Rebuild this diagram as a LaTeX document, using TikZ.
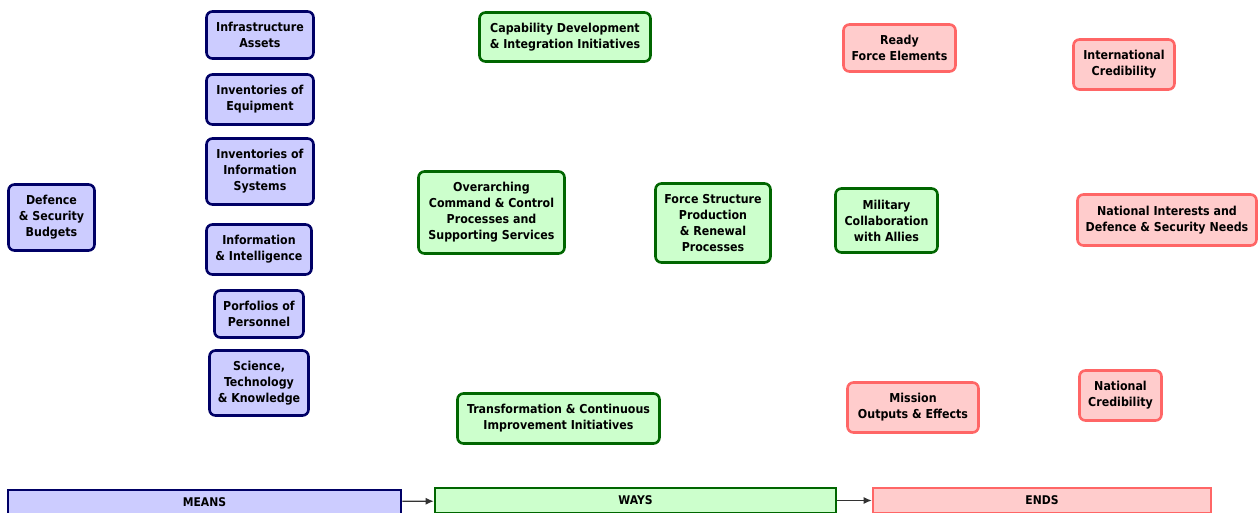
\documentclass[tikz,border=0pt]{standalone}
\usepackage{fontspec}
\setsansfont{DejaVu Sans Condensed}
\usetikzlibrary{arrows.meta}
\definecolor{meansline}{HTML}{000066}
\definecolor{meansfill}{HTML}{CCCCFF}
\definecolor{waysline}{HTML}{006600}
\definecolor{waysfill}{HTML}{CCFFCC}
\definecolor{endsline}{HTML}{FF6666}
\definecolor{endsfill}{HTML}{FFCCCC}
\begin{document}
\begin{tikzpicture}[
  x=1pt, y=-1pt,
  box/.style={line width=2.6pt, rounded corners=6pt, align=center, inner sep=1pt,
    font=\sffamily\bfseries\fontsize{12.3}{16}\selectfont},
  means/.style={box, draw=meansline, fill=meansfill},
  ways/.style={box, draw=waysline, fill=waysfill},
  ends/.style={box, draw=endsline, fill=endsfill},
  bar/.style={line width=2.6pt, inner sep=0pt, font=\sffamily\bfseries\fontsize{12}{14}\selectfont},
  flow/.style={line width=1.2pt, draw=black!80, -{Latex[length=8pt,width=7pt]}}
]
  \useasboundingbox (0,0) rectangle (1258,513);

  % Means: resources held by defence
  \node[means, minimum width=86, minimum height=66] (budgets) at (51.5,217.5) {Defence\\\& Security\\Budgets};
  \node[means, minimum width=107, minimum height=47] (infra) at (260,35) {Infrastructure\\Assets};
  \node[means, minimum width=107, minimum height=50] (equip) at (260,99.5) {Inventories of\\Equipment};
  \node[means, minimum width=107, minimum height=66] (infosys) at (260,171.5) {Inventories of\\Information\\Systems};
  \node[means, minimum width=105, minimum height=50] (intel) at (259,249.5) {Information\\\& Intelligence};
  \node[means, minimum width=89, minimum height=47] (personnel) at (259,314) {Porfolios of\\Personnel};
  \node[means, minimum width=99, minimum height=65] (science) at (259,383) {Science,\\Technology\\\& Knowledge};

  % Ways: processes and initiatives
  \node[ways, minimum width=171, minimum height=49] (capdev) at (565,37) {Capability Development\\\& Integration Initiatives};
  \node[ways, minimum width=146, minimum height=82] (command) at (491.5,212.5) {Overarching\\Command \& Control\\Processes and\\Supporting Services};
  \node[ways, minimum width=115, minimum height=79] (forcestruct) at (713,223) {Force Structure\\Production\\\& Renewal\\Processes};
  \node[ways, minimum width=102, minimum height=64] (allies) at (886.5,220.5) {Military\\Collaboration\\with Allies};
  \node[ways, minimum width=202, minimum height=50] (transform) at (558.5,418.5) {Transformation \& Continuous\\Improvement Initiatives};

  % Ends: outputs and outcomes
  \node[ends, minimum width=112, minimum height=47] (ready) at (899.5,48) {Ready\\Force Elements};
  \node[ends, minimum width=101, minimum height=50] (intlcred) at (1124,64.5) {International\\Credibility};
  \node[ends, minimum width=179, minimum height=51] (natinterest) at (1167,220) {National Interests and\\Defence \& Security Needs};
  \node[ends, minimum width=131, minimum height=50] (mission) at (913,407.5) {Mission\\Outputs \& Effects};
  \node[ends, minimum width=82, minimum height=50] (natcred) at (1120.5,395.5) {National\\Credibility};

  % Bottom bars
  \node[bar, draw=meansline, fill=meansfill, minimum width=393, minimum height=24] (meansbar) at (204.5,502) {MEANS};
  \node[bar, draw=waysline, fill=waysfill, minimum width=401, minimum height=25] (waysbar) at (635.5,500.5) {WAYS};
  \node[bar, draw=endsline, fill=endsfill, minimum width=338, minimum height=25] (endsbar) at (1042,500.5) {ENDS};

  \draw[flow] (meansbar) -- (waysbar);
  \draw[flow] (waysbar) -- (endsbar);

\end{tikzpicture}
\end{document}
